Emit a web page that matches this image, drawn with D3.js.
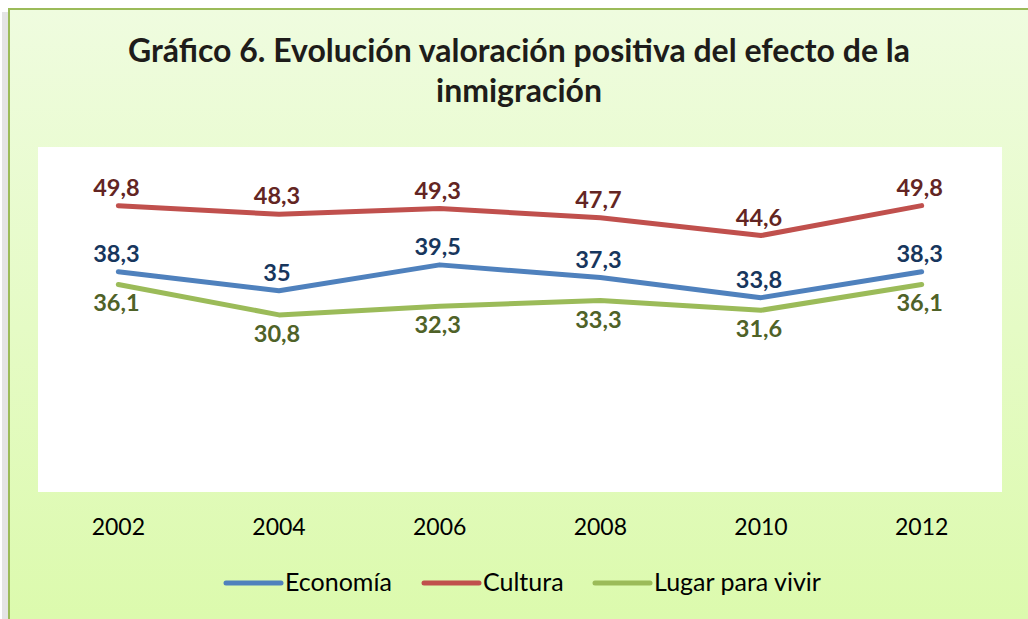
<!DOCTYPE html>
<html>
<head>
<meta charset="utf-8">
<script src="https://cdn.jsdelivr.net/npm/d3@7"></script>
<style>
  body { margin: 0; background: #fff; }
  svg { display: block; }
  text { font-family: Lato, "Open Sans", sans-serif; }
</style>
</head>
<body>
<svg id="chart" width="1028" height="619"></svg>
<script>
// data
var years = ["2002", "2004", "2006", "2008", "2010", "2012"];
var economia = [38.3, 35, 39.5, 37.3, 33.8, 38.3];
var cultura = [49.8, 48.3, 49.3, 47.7, 44.6, 49.8];
var lugar = [36.1, 30.8, 32.3, 33.3, 31.6, 36.1];
var seriesNames = ["Economía", "Cultura", "Lugar para vivir"];
var titleLines = ["Gráfico 6. Evolución valoración positiva del efecto de la", "inmigración"];

var svg = d3.select("#chart");
var W = 1028, H = 619;
var plot = {left: 38, top: 147, right: 1002, bottom: 492};

// background gradient like the excel chart area
var defs = svg.append("defs");
var grad = defs.append("linearGradient").attr("id", "bg").attr("x1", 0).attr("y1", 0).attr("x2", 0).attr("y2", 1);
grad.append("stop").attr("offset", "0%").attr("stop-color", "#effcdf");
grad.append("stop").attr("offset", "100%").attr("stop-color", "#dbfaab");

// small shadow on the left
svg.append("rect").attr("x", 2).attr("y", 12).attr("width", 10).attr("height", H).attr("fill", "#e4e4e4");
svg.append("rect").attr("x", 9).attr("y", 9).attr("width", W + 20).attr("height", H + 20)
    .attr("fill", "url(#bg)").attr("stroke", "#9bbb59").attr("stroke-width", 2);

// title
svg.append("g").selectAll("text").data(titleLines).enter().append("text")
    .attr("x", 519).attr("y", function (d, i) { return 62 + i * 40; })
    .attr("text-anchor", "middle").attr("font-size", "32px").attr("font-weight", "bold")
    .attr("fill", "#1e1c1a").text(function (d) { return d; });

// plot area
svg.append("rect").attr("x", plot.left).attr("y", plot.top)
    .attr("width", plot.right - plot.left).attr("height", plot.bottom - plot.top).attr("fill", "#fff");

var x = d3.scaleBand().domain(years).range([plot.left, plot.right]);
var y = d3.scaleLinear().domain([0, 60]).range([plot.bottom, plot.top]);

var xAxis = svg.append("g").attr("transform", "translate(0," + plot.bottom + ")")
    .call(d3.axisBottom(x).tickSize(0).tickPadding(0));
xAxis.select(".domain").remove();
xAxis.selectAll("text").attr("font-size", "23px").attr("fill", "#000").attr("dy", 0).attr("y", 43)
    .attr("font-family", "Lato, sans-serif");

var series = [
    {name: seriesNames[0], values: economia, color: "#4f81bd", label: "#17365d", pos: "above"},
    {name: seriesNames[1], values: cultura, color: "#c0504d", label: "#632523", pos: "above"},
    {name: seriesNames[2], values: lugar, color: "#9bbb59", label: "#4f6228", pos: "below"}
];

var line = d3.line()
    .x(function (d, i) { return x(years[i]) + x.bandwidth() / 2; })
    .y(function (d) { return y(d); });

series.forEach(function (s) {
    svg.append("path").datum(s.values).attr("d", line)
        .attr("fill", "none").attr("stroke", s.color).attr("stroke-width", 5)
        .attr("stroke-linejoin", "round").attr("stroke-linecap", "round");
});

series.forEach(function (s) {
    svg.append("g").selectAll("text").data(s.values).enter().append("text")
        .attr("x", function (d, i) { return x(years[i]) + x.bandwidth() / 2 - 2; })
        .attr("y", function (d) { return s.pos == "above" ? y(d) - 10 : y(d) + 27; })
        .attr("text-anchor", "middle").attr("font-size", "23.5px").attr("font-weight", "bold")
        .attr("fill", s.label)
        .text(function (d) { return String(d).replace(".", ","); });
});

// legend
var legendX = [226, 424, 595];
var leg = svg.append("g").selectAll("g").data(series).enter().append("g")
    .attr("transform", function (d, i) { return "translate(" + legendX[i] + ",583)"; });
leg.append("line").attr("x1", 0).attr("x2", 55).attr("y1", 0).attr("y2", 0)
    .attr("stroke", function (d) { return d.color; }).attr("stroke-width", 5).attr("stroke-linecap", "round");
leg.append("text").attr("x", 59).attr("y", 8).attr("font-size", "25px").attr("fill", "#000")
    .text(function (d) { return d.name; });
</script>
</body>
</html>
